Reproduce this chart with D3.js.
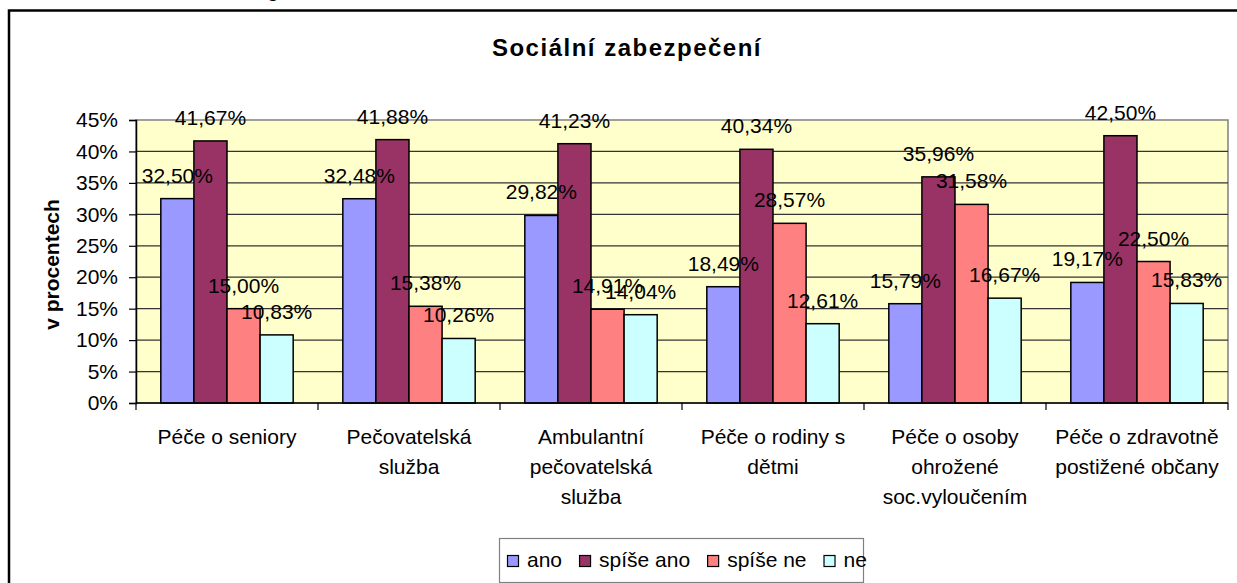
<!DOCTYPE html>
<html>
<head>
<meta charset="utf-8">
<script src="https://cdn.jsdelivr.net/npm/d3@7"></script>
<style>
  body { margin: 0; background: #fff; }
  svg text { font-family: "Liberation Sans", Arial, sans-serif; fill: #000; }
</style>
</head>
<body>
<div id="chart"></div>
<script>
// categories (multi-line labels as in the original)
var categories = ["Péče o seniory", "Pečovatelská služba", "Ambulantní pečovatelská služba",
    "Péče o rodiny s dětmi", "Péče o osoby ohrožené soc.vyloučením", "Péče o zdravotně postižené občany"];
var catLines = [["Péče o seniory"], ["Pečovatelská", "služba"], ["Ambulantní", "pečovatelská", "služba"],
    ["Péče o rodiny s", "dětmi"], ["Péče o osoby", "ohrožené", "soc.vyloučením"], ["Péče o zdravotně", "postižené občany"]];

var seriesNames = ["ano", "spíše ano", "spíše ne", "ne"];
var ano      = [32.50, 32.48, 29.82, 18.49, 15.79, 19.17];
var spiseAno = [41.67, 41.88, 41.23, 40.34, 35.96, 42.50];
var spiseNe  = [15.00, 15.38, 14.91, 28.57, 31.58, 22.50];
var ne       = [10.83, 10.26, 14.04, 12.61, 16.67, 15.83];
var seriesColors = ["#9999ff", "#993366", "#ff8080", "#ccffff"];

var yTicks = [0, 5, 10, 15, 20, 25, 30, 35, 40, 45];

var values = [ano, spiseAno, spiseNe, ne];

var width = 1237, height = 583;
var plot = {left: 136, right: 1228, top: 120, bottom: 403};

var svg = d3.select("#chart").append("svg")
    .attr("width", width)
    .attr("height", height);

// bit of text from above the chart, cut off by the page
svg.append("text")
    .attr("x", 267)
    .attr("y", -3)
    .style("font-size", "21px")
    .text("g");

// outer chart frame (cut at right and bottom)
svg.append("rect")
    .attr("x", 9)
    .attr("y", 10.5)
    .attr("width", 1400)
    .attr("height", 800)
    .attr("fill", "#fff")
    .attr("stroke", "#000")
    .attr("stroke-width", 2.5);

var x0 = d3.scaleBand()
    .domain(categories)
    .range([plot.left, plot.right])
    .paddingInner(0)
    .paddingOuter(0);

var x1 = d3.scaleBand()
    .domain(seriesNames)
    .range([0, x0.bandwidth()])
    .paddingInner(0)
    .paddingOuter(0.75);

var y = d3.scaleLinear()
    .domain([0, 45])
    .range([plot.bottom, plot.top]);

// plot background
svg.append("rect")
    .attr("x", plot.left)
    .attr("y", plot.top)
    .attr("width", plot.right - plot.left)
    .attr("height", plot.bottom - plot.top)
    .attr("fill", "#ffffcc")
    .attr("stroke", "#808080")
    .attr("stroke-width", 1.5);

// gridlines
svg.append("g")
    .selectAll("line")
    .data(yTicks.filter(function(d) { return d > 0 && d < 45; }))
    .enter().append("line")
    .attr("x1", plot.left)
    .attr("x2", plot.right)
    .attr("y1", function(d) { return y(d); })
    .attr("y2", function(d) { return y(d); })
    .attr("stroke", "#333")
    .attr("stroke-width", 1.2);

// title
svg.append("text")
    .attr("x", 627)
    .attr("y", 56)
    .attr("text-anchor", "middle")
    .style("font-size", "24px")
    .style("font-weight", "bold")
    .style("letter-spacing", "1.5px")
    .text("Sociální zabezpečení");

// bars
var groups = svg.selectAll(".series")
    .data(seriesNames)
    .enter().append("g")
    .attr("class", "series");

groups.selectAll("rect")
    .data(function(s, i) { return values[i].map(function(v, j) { return {s: s, i: i, v: v, c: categories[j]}; }); })
    .enter().append("rect")
    .attr("x", function(d) { return x0(d.c) + x1(d.s); })
    .attr("y", function(d) { return y(d.v); })
    .attr("width", x1.bandwidth())
    .attr("height", function(d) { return y(0) - y(d.v); })
    .attr("fill", function(d) { return seriesColors[d.i]; })
    .attr("stroke", "#000")
    .attr("stroke-width", 1.5);

// y axis
var yAxis = d3.axisLeft(y)
    .tickValues(yTicks)
    .tickSize(7)
    .tickPadding(11)
    .tickFormat(function(d) { return d + "%"; });

var gy = svg.append("g")
    .attr("transform", "translate(" + plot.left + ",0)")
    .call(yAxis);
gy.select(".domain").attr("stroke", "#000").attr("stroke-width", 1.5);
gy.selectAll(".tick line").attr("stroke", "#000").attr("stroke-width", 1.2);
gy.selectAll(".tick text")
    .style("font-size", "21px")
    .attr("font-family", null);

svg.append("text")
    .attr("transform", "translate(59," + ((plot.top + plot.bottom) / 2 + 3) + ") rotate(-90)")
    .attr("text-anchor", "middle")
    .style("font-size", "21px")
    .style("font-weight", "bold")
    .text("v procentech");

// x axis: line plus ticks at group boundaries
svg.append("line")
    .attr("x1", plot.left)
    .attr("x2", plot.right)
    .attr("y1", plot.bottom)
    .attr("y2", plot.bottom)
    .attr("stroke", "#000")
    .attr("stroke-width", 1.5);

var bounds = categories.map(function(c) { return x0(c); }).concat([x0.range()[1]]);
svg.append("g")
    .selectAll("line")
    .data(bounds)
    .enter().append("line")
    .attr("x1", function(d) { return d; })
    .attr("x2", function(d) { return d; })
    .attr("y1", plot.bottom)
    .attr("y2", plot.bottom + 7)
    .attr("stroke", "#000")
    .attr("stroke-width", 1.2);

var xl = svg.append("g")
    .selectAll("text")
    .data(categories)
    .enter().append("text")
    .attr("text-anchor", "middle")
    .style("font-size", "21px")
    .attr("x", function(d) { return x0(d) + x0.bandwidth() / 2; })
    .attr("y", 444);

xl.selectAll("tspan")
    .data(function(d, i) { return catLines[i]; })
    .enter().append("tspan")
    .attr("x", function() { return d3.select(this.parentNode).attr("x"); })
    .attr("y", function(d, i) { return 444 + i * 30; })
    .text(function(d) { return d; });

// data labels on top of all bars
var labelData = [];
seriesNames.forEach(function(s, i) {
    values[i].forEach(function(v, j) { labelData.push({s: s, v: v, c: categories[j]}); });
});
svg.append("g")
    .selectAll("text")
    .data(labelData)
    .enter().append("text")
    .attr("text-anchor", "middle")
    .style("font-size", "21px")
    .attr("x", function(d) { return x0(d.c) + x1(d.s) + x1.bandwidth() / 2; })
    .attr("y", function(d) { return y(d.v) - 16; })
    .text(function(d) { return d.v.toFixed(2).replace(".", ",") + "%"; });

// legend
var lg = svg.append("g");
lg.append("rect")
    .attr("x", 499.5)
    .attr("y", 538.5)
    .attr("width", 364)
    .attr("height", 44)
    .attr("fill", "#fff")
    .attr("stroke", "#808080")
    .attr("stroke-width", 1.2);

var lx = 507;
seriesNames.forEach(function(s, i) {
    lg.append("rect")
        .attr("x", lx + 0.5)
        .attr("y", 555.5)
        .attr("width", 11)
        .attr("height", 11)
        .attr("fill", seriesColors[i])
        .attr("stroke", "#000")
        .attr("stroke-width", 1.2);
    var t = lg.append("text")
        .attr("x", lx + 20)
        .attr("y", 567)
        .style("font-size", "21px")
        .text(s);
    lx = lx + 20 + t.node().getComputedTextLength() + 17;
});
</script>
</body>
</html>
